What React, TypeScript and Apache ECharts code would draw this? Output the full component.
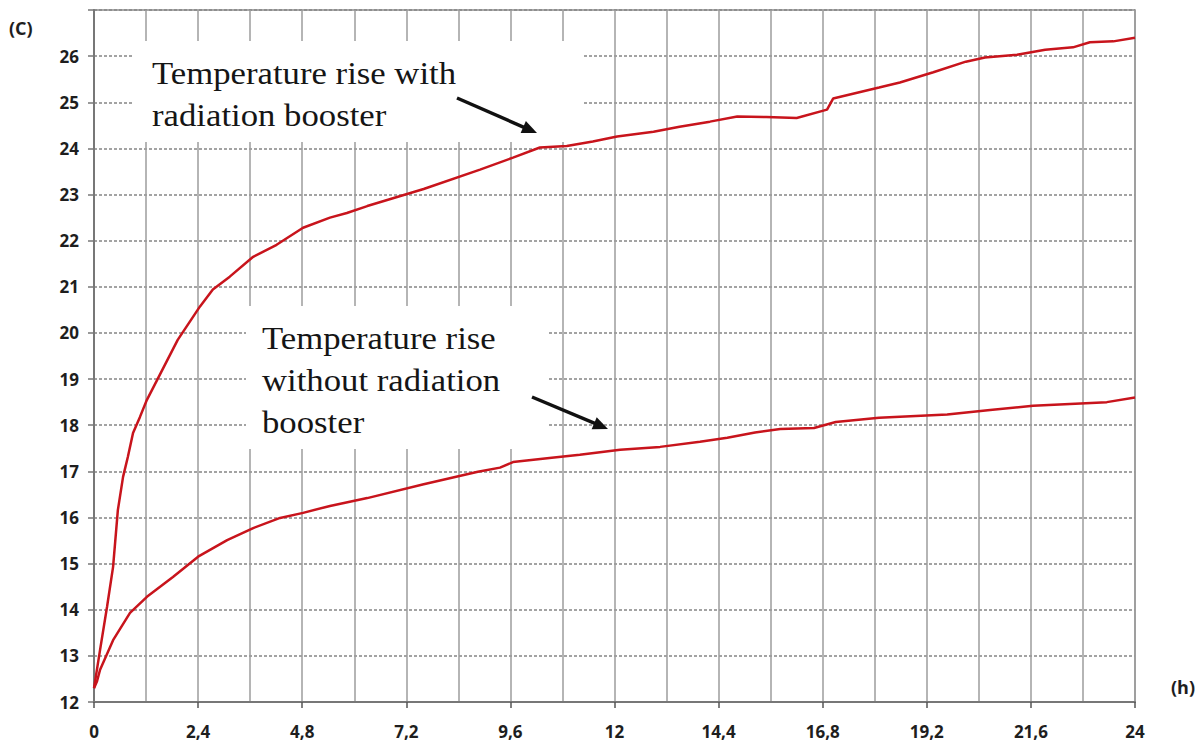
import React, { useEffect, useRef } from "react";
import * as echarts from "echarts";

// Hours (x) and temperatures (°C)
const withBoosterHours = [
  0, 0.14, 0.3, 0.44, 0.55, 0.67, 0.78, 0.9, 1.06, 1.22, 1.93, 2.44, 2.74, 3.13, 3.67, 4.21, 4.82,
  5.44, 5.83, 6.3, 7.6, 8.9, 9.66, 10.28, 10.9, 11.5, 12.06, 12.9, 13.5, 14.2, 14.83, 15.5, 16.2,
  16.9, 17.04, 18.1, 18.58, 19.35, 20.1, 20.54, 21.28, 21.93, 22.57, 22.96, 23.5, 24,
];
const withBoosterTemps = [
  12.3, 13.13, 14.06, 14.93, 16.16, 16.88, 17.31, 17.83, 18.18, 18.55, 19.85, 20.57, 20.94, 21.22,
  21.65, 21.91, 22.28, 22.5, 22.6, 22.75, 23.12, 23.54, 23.8, 24.02, 24.05, 24.15, 24.26, 24.36,
  24.47, 24.58, 24.69, 24.68, 24.66, 24.84, 25.08, 25.32, 25.43, 25.65, 25.88, 25.97, 26.03, 26.14,
  26.19, 26.3, 26.32, 26.4,
];

const withoutBoosterHours = [
  0, 0.07, 0.14, 0.44, 0.83, 1.22, 1.82, 2.4, 3.07, 3.67, 4.29, 4.82, 5.44, 6.3, 7.6, 8.85, 9.36,
  9.66, 10.5, 11.2, 12.13, 13.05, 13.97, 14.6, 15.24, 15.82, 16.6, 17.1, 18.1, 19.67, 20.66, 21.65,
  23.35, 24,
];
const withoutBoosterTemps = [
  12.3, 12.45, 12.7, 13.34, 13.93, 14.28, 14.71, 15.15, 15.51, 15.77, 15.99, 16.1, 16.25, 16.42,
  16.72, 16.99, 17.08, 17.2, 17.29, 17.36, 17.47, 17.53, 17.64, 17.73, 17.84, 17.92, 17.94, 18.07,
  18.16, 18.23, 18.33, 18.42, 18.5, 18.6,
];

const xMin = 0;
const xMax = 24;
const xStep = 2.4;
const yMin = 12;
const yMax = 27;
const yStep = 1;

const annotationWith = "Temperature rise with\nradiation booster";
const annotationWithout = "Temperature rise\nwithout radiation\nbooster";
const yUnit = "(C)";
const xUnit = "(h)";

const zip = (xs: number[], ys: number[]) => xs.map((x, i) => [x, ys[i]]);

export default function App() {
  const ref = useRef<HTMLDivElement>(null);

  useEffect(() => {
    if (!ref.current) return;
    const chart = echarts.init(ref.current, undefined, { renderer: "svg" });
    const lineColor = "#c8141c";
    const sans = "Open Sans, Liberation Sans, Arial, sans-serif";
    const labelFont = {
      fontFamily: sans,
      fontWeight: "bold" as const,
      fontSize: 17,
      color: "#1e1e1e",
    };
    const serif = "Liberation Serif, Times New Roman, serif";

    const arrow = (x1: number, y1: number, x2: number, y2: number) => {
      const dx = x2 - x1;
      const dy = y2 - y1;
      const len = Math.hypot(dx, dy);
      const ux = dx / len;
      const uy = dy / len;
      const nx = -uy;
      const ny = ux;
      const head = 15;
      const half = 6.5;
      const bx = x2 - head * ux;
      const by = y2 - head * uy;
      return [
        {
          type: "line",
          z: 120,
          shape: { x1, y1, x2: bx + ux * 2, y2: by + uy * 2 },
          style: { stroke: "#111", lineWidth: 3.5 },
        },
        {
          type: "polygon",
          z: 120,
          shape: {
            points: [
              [x2, y2],
              [bx + half * nx, by + half * ny],
              [bx - half * nx, by - half * ny],
            ],
          },
          style: { fill: "#111" },
        },
      ];
    };

    chart.setOption({
      animation: false,
      backgroundColor: "#ffffff",
      grid: {
        left: 94,
        right: 68,
        top: 10,
        bottom: 45,
        show: true,
        borderColor: "#8c8c8c",
        borderWidth: 1.5,
        backgroundColor: "transparent",
      },
      xAxis: {
        type: "value",
        min: xMin,
        max: xMax,
        interval: xStep,
        axisLine: { show: true, lineStyle: { color: "#777", width: 2 } },
        axisTick: { show: true, length: 6, lineStyle: { color: "#555", width: 1.5 } },
        axisLabel: {
          ...labelFont,
          margin: 21,
          formatter: (v: number) => String(Number(v.toFixed(1))).replace(".", ","),
        },
        splitLine: { show: true, lineStyle: { color: "#9c9c9c", width: 1.5, type: "solid" } },
        minorTick: { show: false, splitNumber: 2 },
        minorSplitLine: { show: true, lineStyle: { color: "#9c9c9c", width: 1.5, type: "solid" } },
      },
      yAxis: {
        type: "value",
        min: yMin,
        max: yMax,
        interval: yStep,
        axisLine: { show: true, lineStyle: { color: "#777", width: 2 } },
        axisTick: { show: true, length: 6, lineStyle: { color: "#777", width: 1.5 } },
        axisLabel: {
          ...labelFont,
          margin: 15,
          formatter: (v: number) => (v === yMax ? "" : String(v)),
        },
        splitLine: {
          show: true,
          lineStyle: { color: "#858585", width: 1.5, type: [3, 2] },
        },
      },
      series: [
        {
          name: "with booster",
          type: "line",
          data: zip(withBoosterHours, withBoosterTemps),
          showSymbol: false,
          lineStyle: { color: lineColor, width: 2.5 },
          z: 10,
        },
        {
          name: "without booster",
          type: "line",
          data: zip(withoutBoosterHours, withoutBoosterTemps),
          showSymbol: false,
          lineStyle: { color: lineColor, width: 2.5 },
          z: 10,
        },
      ],
      graphic: [
        {
          type: "rect",
          z: 100,
          shape: { x: 133, y: 41, width: 449, height: 101 },
          style: { fill: "#ffffff" },
        },
        {
          type: "rect",
          z: 100,
          shape: { x: 246, y: 306, width: 301, height: 143 },
          style: { fill: "#ffffff" },
        },
        {
          type: "text",
          z: 110,
          x: 152,
          y: 53,
          scaleX: 1.12,
          style: {
            text: annotationWith,
            fontFamily: serif,
            fontSize: 31,
            fill: "#151515",
            lineHeight: 42,
          },
        },
        {
          type: "text",
          z: 110,
          x: 262,
          y: 318,
          scaleX: 1.12,
          style: {
            text: annotationWithout,
            fontFamily: serif,
            fontSize: 31,
            fill: "#151515",
            lineHeight: 42,
          },
        },
        ...arrow(457, 98, 537, 133),
        ...arrow(532, 397, 608, 429),
        {
          type: "text",
          z: 110,
          x: 9,
          y: 19,
          style: {
            text: yUnit,
            fontFamily: sans,
            fontWeight: "bold",
            fontSize: 18,
            fill: "#1e1e1e",
          },
        },
        {
          type: "text",
          z: 110,
          x: 1171,
          y: 678,
          style: {
            text: xUnit,
            fontFamily: sans,
            fontWeight: "bold",
            fontSize: 18,
            fill: "#1e1e1e",
          },
        },
      ],
    });
    return () => chart.dispose();
  }, []);

  return (
    <div
      ref={ref}
      style={{ position: "fixed", left: 0, top: 0, width: 1203, height: 747, background: "#fff" }}
    />
  );
}
